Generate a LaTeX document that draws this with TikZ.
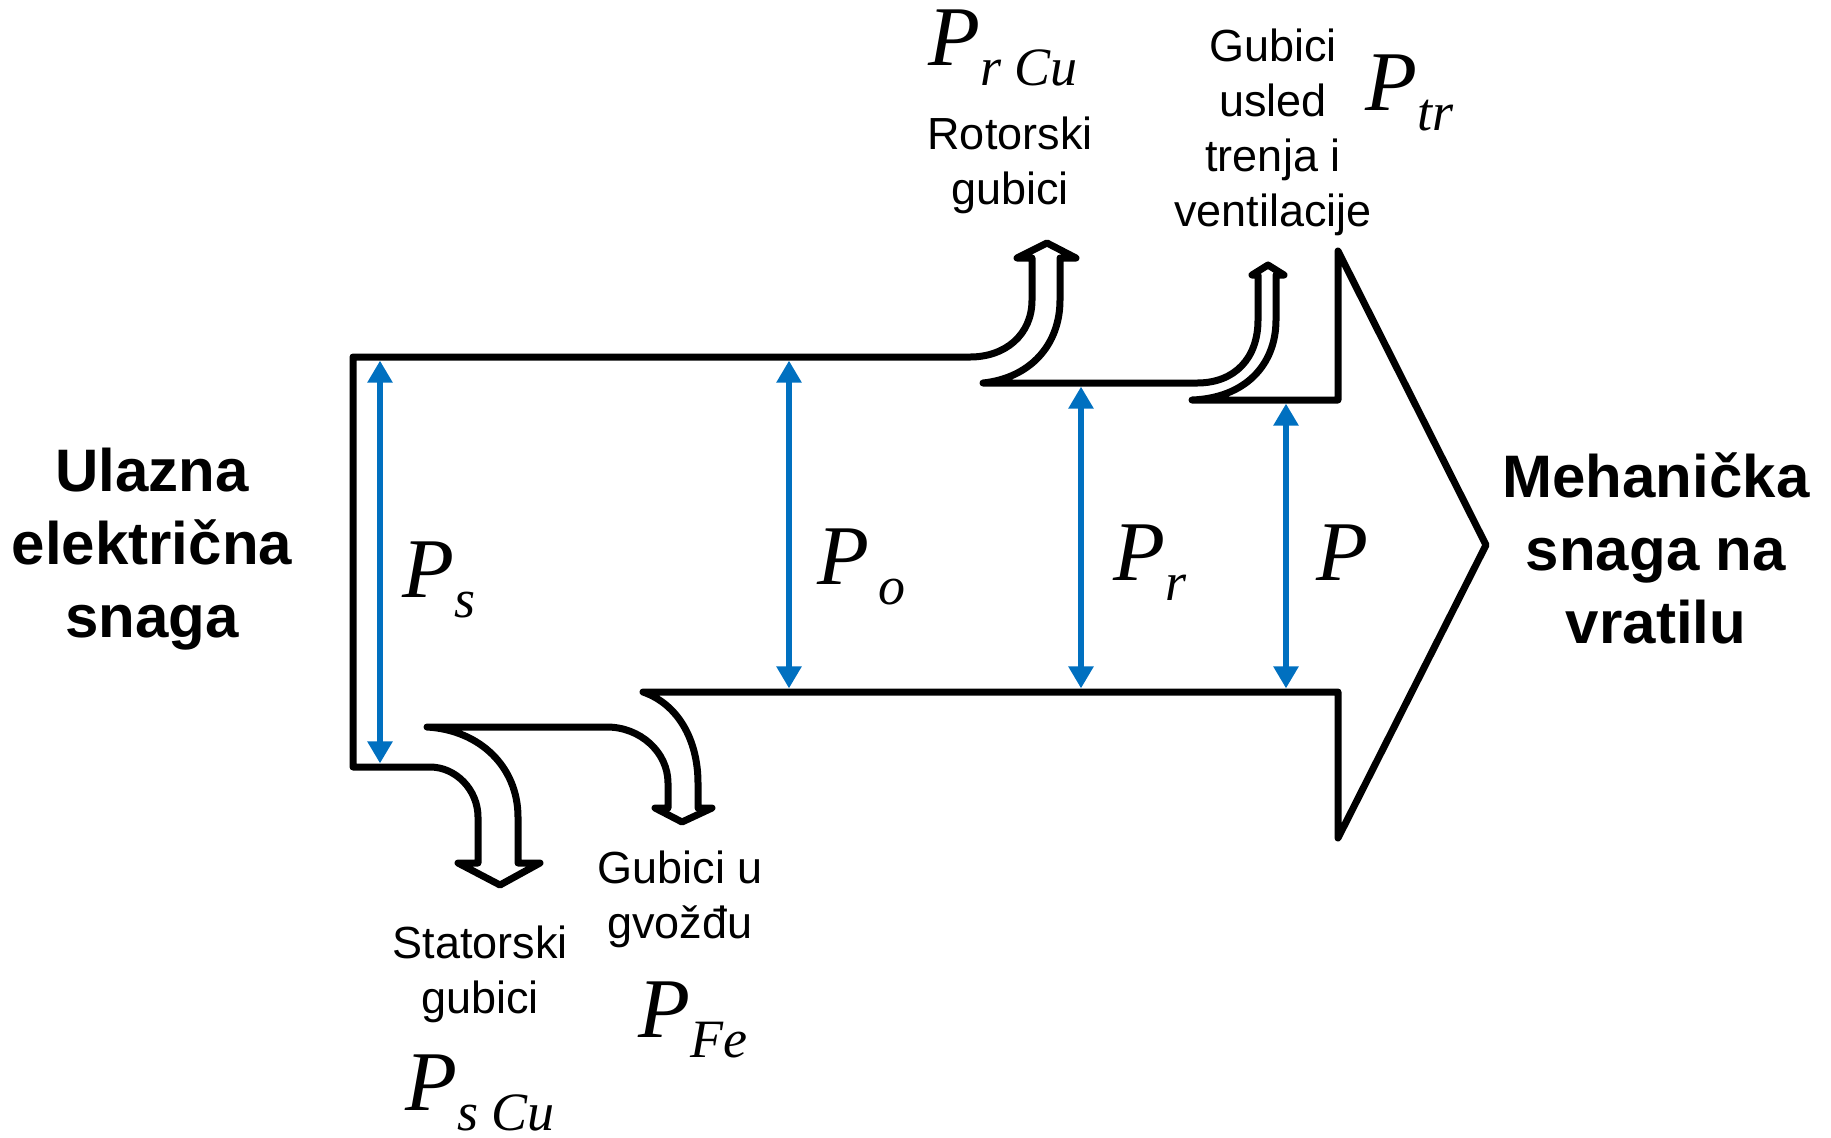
\documentclass[tikz,border=0pt]{standalone}
\usepackage{fontspec}
\setmainfont{Liberation Sans}
\newfontfamily\serifit{Liberation Serif}
\usetikzlibrary{arrows.meta}
\definecolor{Fblue}{RGB}{0, 112, 192}
\tikzset{
    outline/.style={draw=black, line width=3.5pt, line join=round, line cap=round},
    flowarr/.style={
        {Triangle[length=11pt, width=12pt]}-{Triangle[length=11pt, width=12pt]},
        line width=3.2pt, Fblue, shorten <=1.8pt, shorten >=1.8pt
    },
    lbl/.style={align=center, inner sep=0pt, font=\fontsize{22.5}{27.5}\selectfont},
    ttl/.style={align=center, inner sep=0pt, font=\fontsize{30}{36.5}\selectfont\bfseries},
    pwr/.style={inner sep=0pt, anchor=base west, font=\serifit\itshape\fontsize{42.5}{43}\selectfont},
}
\newcommand{\pw}[1]{P\raisebox{-10pt}{\fontsize{27}{27}\selectfont #1}}

\begin{document}
\begin{tikzpicture}[x=0.5pt, y=-0.5pt]

    \useasboundingbox (0,0) rectangle (1831,1137);

    \draw [outline] (353,357) -- (353,767) -- (430,767)
        .. controls (456,767) and (478,790) .. (478,817) -- (478,863)
        -- (458,863) -- (500,885) -- (540,863) -- (518,863) -- (518,817)
        .. controls (518,767) and (480,730) .. (427,727) -- (607,727)
        .. controls (640,727) and (668,752) .. (668,783) -- (668,808)
        -- (655,808) -- (682,822) -- (712,808) -- (698,808) -- (698,783)
        .. controls (698,740) and (678,704) .. (643,692) -- (1338,692)
        -- (1338,838) -- (1486,545) -- (1338,251) -- (1338,400) -- (1192,400)
        .. controls (1245,398) and (1276,365) .. (1276,320) -- (1276,275)
        -- (1284,275) -- (1268,265) -- (1252,275) -- (1258,275) -- (1258,320)
        .. controls (1258,358) and (1235,383) .. (1197,383) -- (983,383)
        .. controls (1030,378) and (1060,345) .. (1060,300) -- (1060,258)
        -- (1076,258) -- (1047,243) -- (1017,258) -- (1032,258) -- (1032,300)
        .. controls (1032,335) and (1005,357) .. (970,357) -- cycle;

    \coordinate (s top) at (380,357);
    \coordinate (s bot) at (380,767);
    \coordinate (o top) at (789,357);
    \coordinate (o bot) at (789,692);
    \coordinate (r top) at (1081,383);
    \coordinate (r bot) at (1081,692);
    \coordinate (m top) at (1286,400);
    \coordinate (m bot) at (1286,692);

    \draw [flowarr] (s top) -- (s bot);
    \draw [flowarr] (o top) -- (o bot);
    \draw [flowarr] (r top) -- (r bot);
    \draw [flowarr] (m top) -- (m bot);

    \node [ttl] (input) at (152,549) {Ulazna\\električna\\snaga};
    \node [ttl] (output) at (1656,548) {Mehanička\\snaga na\\vratilu};

    \node [lbl] (rotlbl) at (1010,165) {Rotorski\\gubici};
    \node [lbl] (trlbl) at (1273,132) {Gubici\\usled\\trenja i\\ventilacije};
    \node [lbl] (statlbl) at (480,974) {Statorski\\gubici};
    \node [lbl] (felbl) at (680,899) {Gubici u\\gvožđu};

    \node [pwr] (ps) at (402,597) {\pw{s}};
    \node [pwr] (po) at (817,584) {\pw{\,o}};
    \node [pwr] (pr) at (1113,580) {\pw{r}};
    \node [pwr] (pm) at (1316,580) {P};
    \node [pwr] (prcu) at (928,65) {\pw{r Cu}};
    \node [pwr] (ptr) at (1365,110) {\pw{tr}};
    \node [pwr] (pfe) at (638,1037) {\pw{Fe}};
    \node [pwr] (pscu) at (405,1110) {\pw{s Cu}};

\end{tikzpicture}
\end{document}
